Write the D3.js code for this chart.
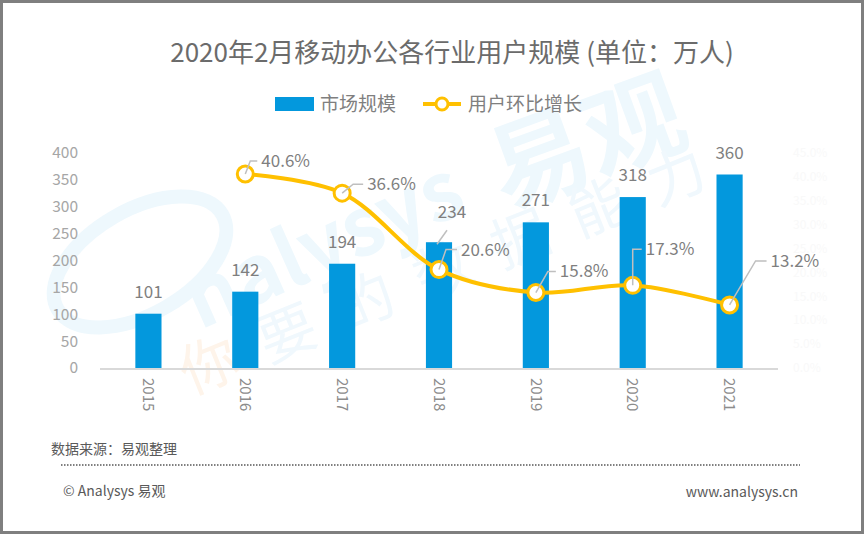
<!DOCTYPE html>
<html>
<head>
<meta charset="utf-8">
<script src="https://cdn.jsdelivr.net/npm/d3@7"></script>
<style>
  body { margin: 0; background: #fff; }
  svg text { font-family: "Noto Sans CJK SC", "Noto Sans", sans-serif; }
</style>
</head>
<body>
<div id="chart"></div>
<script>
// data
var years = ["2015", "2016", "2017", "2018", "2019", "2020", "2021"];
var users = [101, 142, 194, 234, 271, 318, 360];
var growthYears = ["2016", "2017", "2018", "2019", "2020", "2021"];
var growth = [40.6, 36.6, 20.6, 15.8, 17.3, 13.2];
var leftTicks = [0, 50, 100, 150, 200, 250, 300, 350, 400];
var rightTicks = [0, 5, 10, 15, 20, 25, 30, 35, 40, 45];

// leader offsets for the % labels [dx, dy of elbow, length of flat part]
var labelOffsets = [[5, -13, 7], [11, -9, 10], [7, -20, 11], [12, -21, 8], [0, -36, 9], [26, -44, 11]];

var W = 864, H = 534;
var margin = {top: 153, right: 86, bottom: 166, left: 100};
var width = W - margin.left - margin.right;
var height = H - margin.top - margin.bottom;

var svg = d3.select("#chart").append("svg")
    .attr("width", W)
    .attr("height", H);

// frame
svg.append("rect")
    .attr("x", 1.5).attr("y", 1.5)
    .attr("width", W - 3).attr("height", H - 3)
    .attr("fill", "#fff")
    .attr("stroke", "#7f7f7f")
    .attr("stroke-width", 3);

// watermark
var wm = svg.append("g").attr("class", "watermark");
wm.append("ellipse")
    .attr("cx", 140).attr("cy", 262).attr("rx", 95).attr("ry", 52)
    .attr("transform", "rotate(-30,140,262)")
    .attr("fill", "none").attr("stroke", "#eef8fd").attr("stroke-width", 14);
wm.append("text")
    .attr("transform", "translate(200,330) rotate(-24)")
    .attr("font-size", 80).attr("font-weight", 700)
    .attr("fill", "#eef8fd")
    .text("nalysys");
wm.append("text")
    .attr("transform", "translate(505,210) rotate(-20)")
    .attr("font-size", 100).attr("font-weight", 700)
    .attr("fill", "#eef8fd")
    .text("易观");
wm.append("text")
    .attr("transform", "translate(190,395) rotate(-22)")
    .attr("font-size", 58)
    .attr("letter-spacing", 26)
    .attr("fill", "#f0f8fd")
    .html('<tspan fill="#fef4ea">你</tspan>要的数据能力');

var g = svg.append("g")
    .attr("transform", "translate(" + margin.left + "," + margin.top + ")");

var x = d3.scaleBand()
    .domain(years)
    .range([0, width])
    .paddingInner(0.73)
    .paddingOuter(0.365);

var y = d3.scaleLinear()
    .domain([0, 400])
    .range([height, 0]);

var y2 = d3.scaleLinear()
    .domain([0, 45])
    .range([height, 0]);

// left axis labels
g.selectAll(".ytick")
    .data(leftTicks)
    .enter().append("text")
    .attr("class", "ytick")
    .attr("x", -22)
    .attr("y", function(d){ return y(d); })
    .attr("dy", "0.35em")
    .attr("text-anchor", "end")
    .attr("font-size", 15.5)
    .attr("fill", "#a6a6a6")
    .text(function(d){ return d; });

// right axis labels (almost invisible in the original)
g.selectAll(".y2tick")
    .data(rightTicks)
    .enter().append("text")
    .attr("class", "y2tick")
    .attr("x", width + 15)
    .attr("y", function(d){ return y2(d); })
    .attr("dy", "0.35em")
    .attr("font-size", 12)
    .attr("fill", "#f9f9f9")
    .text(function(d){ return d.toFixed(1) + "%"; });

// bars
g.selectAll(".bar")
    .data(users)
    .enter().append("rect")
    .attr("class", "bar")
    .attr("x", function(d, i){ return x(years[i]); })
    .attr("y", function(d){ return y(d); })
    .attr("width", x.bandwidth())
    .attr("height", function(d){ return height - y(d); })
    .attr("fill", "#0398dd");

// x axis line
g.append("line")
    .attr("x1", 0).attr("x2", width)
    .attr("y1", height + 1).attr("y2", height + 1)
    .attr("stroke", "#d9d9d9")
    .attr("stroke-width", 2);

// year labels, rotated
g.selectAll(".xtick")
    .data(years)
    .enter().append("text")
    .attr("class", "xtick")
    .attr("transform", function(d){
        return "translate(" + (x(d) + x.bandwidth() / 2) + "," + (height + 10) + ") rotate(90)";
    })
    .attr("dy", "0.35em")
    .attr("font-size", 15)
    .attr("fill", "#8c8c8c")
    .text(function(d){ return d; });

// bar value labels
g.selectAll(".barlabel")
    .data(users)
    .enter().append("text")
    .attr("class", "barlabel")
    .attr("x", function(d, i){ return x(years[i]) + x.bandwidth() / 2 + (years[i] === "2018" ? 13 : 0); })
    .attr("y", function(d, i){ return y(d) - (years[i] === "2018" ? 24 : 16); })
    .attr("text-anchor", "middle")
    .attr("font-size", 17)
    .attr("fill", "#7f7f7f")
    .text(function(d){ return d; });

// leader for the 2018 bar label
g.append("line")
    .attr("x1", x("2018") + x.bandwidth() / 2 - 2)
    .attr("y1", y(234) + 2)
    .attr("x2", x("2018") + x.bandwidth() / 2 + 8)
    .attr("y2", y(234) - 12)
    .attr("stroke", "#bfbfbf")
    .attr("stroke-width", 1.5);

// growth line
var cx = function(i){ return x(growthYears[i]) + x.bandwidth() / 2; };
var cy = function(i){ return y2(growth[i]); };

var line = d3.line()
    .x(function(d, i){ return cx(i); })
    .y(function(d, i){ return cy(i); })
    .curve(d3.curveCatmullRom.alpha(0.5));

g.append("path")
    .datum(growth)
    .attr("d", line)
    .attr("fill", "none")
    .attr("stroke", "#ffc000")
    .attr("stroke-width", 4);

g.selectAll(".marker")
    .data(growth)
    .enter().append("circle")
    .attr("class", "marker")
    .attr("cx", function(d, i){ return cx(i); })
    .attr("cy", function(d, i){ return cy(i); })
    .attr("r", 8)
    .attr("fill", "#fff")
    .attr("stroke", "#ffc000")
    .attr("stroke-width", 3);

// leaders and % labels
g.selectAll(".leader")
    .data(growth)
    .enter().append("polyline")
    .attr("class", "leader")
    .attr("points", function(d, i){
        var o = labelOffsets[i];
        var x0 = cx(i), y0 = cy(i);
        return [[x0, y0], [x0 + o[0], y0 + o[1]], [x0 + o[0] + o[2], y0 + o[1]]].join(" ");
    })
    .attr("fill", "none")
    .attr("stroke", "#bfbfbf")
    .attr("stroke-width", 1.5);

g.selectAll(".pctlabel")
    .data(growth)
    .enter().append("text")
    .attr("class", "pctlabel")
    .attr("x", function(d, i){ var o = labelOffsets[i]; return cx(i) + o[0] + o[2] + 4; })
    .attr("y", function(d, i){ return cy(i) + labelOffsets[i][1]; })
    .attr("dy", "0.35em")
    .attr("font-size", 17)
    .attr("fill", "#7f7f7f")
    .text(function(d){ return d.toFixed(1) + "%"; });

// title
svg.append("text")
    .attr("x", 452).attr("y", 62)
    .attr("text-anchor", "middle")
    .attr("font-size", 26)
    .attr("fill", "#6b6b6b")
    .text("2020年2月移动办公各行业用户规模 (单位：万人)");

// legend
var legend = svg.append("g").attr("transform", "translate(275,104)");
legend.append("rect")
    .attr("x", 0).attr("y", -7)
    .attr("width", 39).attr("height", 14)
    .attr("fill", "#0398dd");
legend.append("text")
    .attr("x", 45).attr("dy", "0.35em")
    .attr("font-size", 19)
    .attr("fill", "#7f7f7f")
    .text("市场规模");
legend.append("line")
    .attr("x1", 148).attr("x2", 186)
    .attr("stroke", "#ffc000").attr("stroke-width", 4);
legend.append("circle")
    .attr("cx", 167).attr("r", 6)
    .attr("fill", "#fff")
    .attr("stroke", "#ffc000").attr("stroke-width", 3);
legend.append("text")
    .attr("x", 193).attr("dy", "0.35em")
    .attr("font-size", 19)
    .attr("fill", "#7f7f7f")
    .text("用户环比增长");

// footer
svg.append("text")
    .attr("x", 51).attr("y", 454)
    .attr("font-size", 14)
    .attr("fill", "#595959")
    .text("数据来源：易观整理");
svg.append("line")
    .attr("x1", 61).attr("x2", 800)
    .attr("y1", 465).attr("y2", 465)
    .attr("stroke", "#808080")
    .attr("stroke-width", 2)
    .attr("stroke-dasharray", "1.5,1.5");
svg.append("text")
    .attr("x", 63).attr("y", 496)
    .attr("font-size", 14)
    .attr("fill", "#595959")
    .text("© Analysys 易观");
svg.append("text")
    .attr("x", 798).attr("y", 497)
    .attr("text-anchor", "end")
    .attr("font-size", 14)
    .attr("fill", "#595959")
    .text("www.analysys.cn");
</script>
</body>
</html>
